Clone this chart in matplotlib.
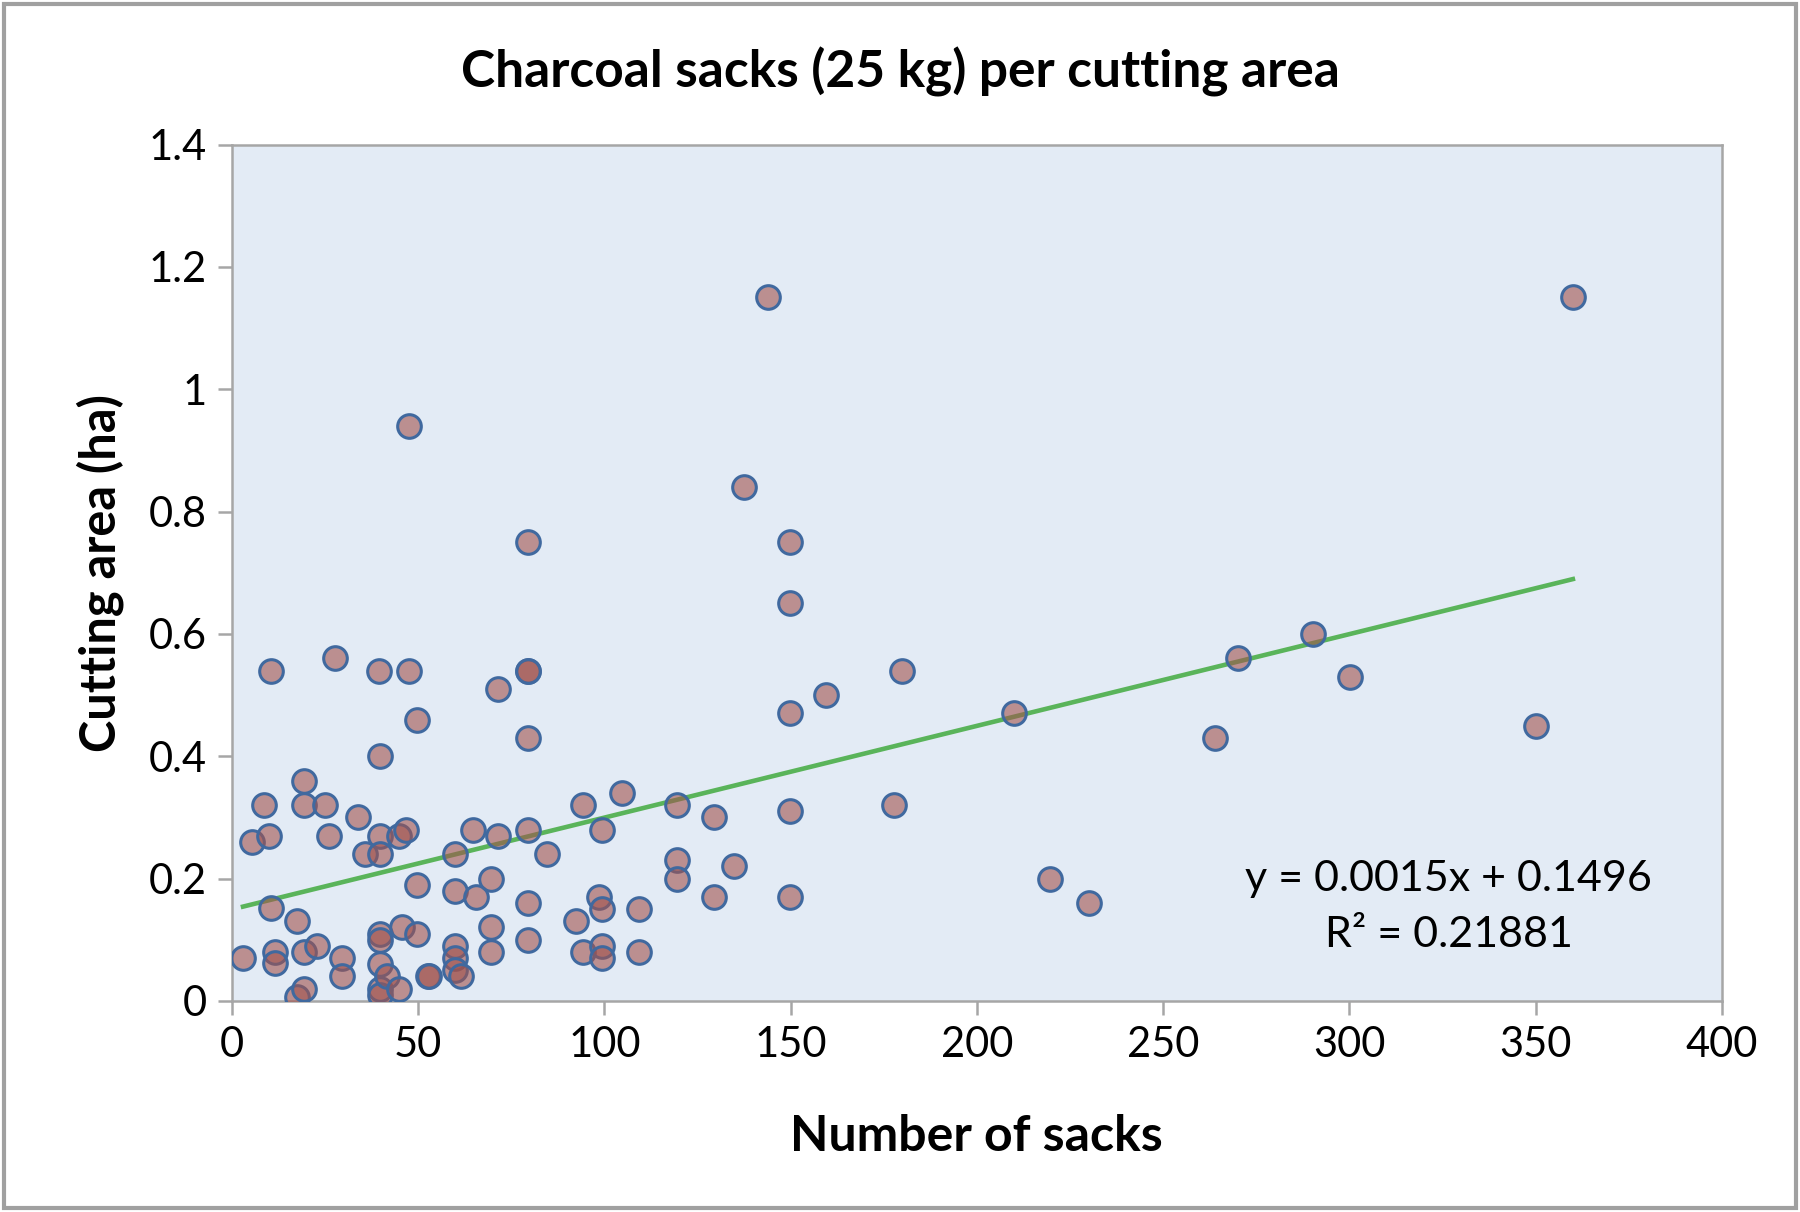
import matplotlib
matplotlib.use("Agg")
import matplotlib.pyplot as plt
from matplotlib.patches import Rectangle
import numpy as np

plt.rcParams['font.family'] = ['Lato', 'DejaVu Sans']

sacks = [3, 5.5, 8.6, 10, 10.5, 10.5, 11.7, 11.7, 17.6, 17.6,
         19.4, 19.4, 19.4, 19.4, 22.8, 25, 26, 27.7, 29.6, 29.6,
         34, 35.7, 39.4, 39.8, 39.8, 39.8, 39.8, 39.8, 39.8, 39.8,
         39.8, 41.6, 45, 45.6, 45, 46.8, 47.5, 47.5, 49.6, 49.6,
         49.6, 52.7, 53, 59.8, 59.8, 59.8, 59.8, 59.8, 61.6, 64.7,
         65.6, 69.6, 69.6, 69.6, 71.5, 71.5, 79.5, 79.5, 79.5, 79.5,
         79.5, 79.5, 79.5, 84.7, 92.4, 94.3, 94.3, 99.5, 98.6, 99.5,
         99.5, 99.5, 104.8, 109.4, 109.4, 119.6, 119.6, 119.6, 129.4, 129.4,
         134.7, 137.4, 144, 149.8, 149.8, 149.8, 149.8, 149.8, 159.6, 177.8,
         180, 209.9, 219.7, 230.2, 264, 270, 290.3, 300.2, 350, 360]
area = [0.07, 0.26, 0.32, 0.27, 0.54, 0.152, 0.08, 0.062, 0.13, 0.006,
        0.36, 0.32, 0.08, 0.02, 0.09, 0.32, 0.27, 0.56, 0.07, 0.04,
        0.30, 0.24, 0.54, 0.40, 0.27, 0.24, 0.11, 0.10, 0.06, 0.02,
        0.01, 0.04, 0.27, 0.12, 0.02, 0.28, 0.94, 0.54, 0.46, 0.19,
        0.11, 0.04, 0.04, 0.24, 0.18, 0.09, 0.07, 0.05, 0.04, 0.28,
        0.17, 0.20, 0.12, 0.08, 0.51, 0.27, 0.75, 0.54, 0.54, 0.43,
        0.28, 0.16, 0.10, 0.24, 0.13, 0.32, 0.08, 0.28, 0.17, 0.15,
        0.09, 0.07, 0.34, 0.15, 0.08, 0.32, 0.23, 0.20, 0.30, 0.17,
        0.22, 0.84, 1.15, 0.75, 0.65, 0.47, 0.31, 0.17, 0.50, 0.32,
        0.54, 0.47, 0.20, 0.16, 0.43, 0.56, 0.60, 0.53, 0.45, 1.15]

slope = 0.0015
intercept = 0.1496
r2 = 0.21881

x_ticks = [0, 50, 100, 150, 200, 250, 300, 350, 400]
y_ticks = [0, 0.2, 0.4, 0.6, 0.8, 1.0, 1.2, 1.4]
y_tick_labels = ['0', '0.2', '0.4', '0.6', '0.8', '1', '1.2', '1.4']

fig = plt.figure(figsize=(18, 12.12), dpi=100)
ax = fig.add_axes([0.1288, 0.1742, 0.8278, 0.7065])
ax.set_facecolor('#e3ebf5')

ax.scatter(sacks, area, s=17**2, facecolor=(0.63, 0.32, 0.30, 0.6),
           edgecolor='#40699f', linewidth=2.2, zorder=3)

xs = np.array([min(sacks), max(sacks)])
ax.plot(xs, slope * xs + intercept, color='#5ab45a', linewidth=3.3, zorder=2)

ax.set_xlim(0, 400)
ax.set_ylim(0, 1.4)
ax.set_xticks(x_ticks)
ax.set_xticklabels([str(t) for t in x_ticks])
ax.set_yticks(y_ticks)
ax.set_yticklabels(y_tick_labels)

for s in ax.spines.values():
    s.set_color('#a6a6a6')
    s.set_linewidth(1.8)
ax.tick_params(axis='both', colors='#a6a6a6', length=10, width=1.8,
               labelsize=30, labelcolor='black', direction='out')
ax.tick_params(axis='x', pad=8)
ax.tick_params(axis='y', pad=8)

ax.set_xlabel('Number of sacks', fontsize=36, fontweight='bold', labelpad=36)
ax.set_ylabel('Cutting area (ha)', fontsize=35, fontweight='bold', labelpad=18)
fig.suptitle('Charcoal sacks (25 kg) per cutting area', fontsize=37,
             fontweight='bold', x=0.5, y=0.941, va='center')

ax.text(326.7, 0.199, f'y = {slope}x + {intercept}', fontsize=31,
        ha='center', va='center', zorder=4)
ax.text(326.7, 0.107, f'R² = {r2}', fontsize=31, ha='center', va='center', zorder=4)

fig.patches.append(Rectangle((0.002, 0.003), 0.996, 0.994, transform=fig.transFigure,
                             fill=False, edgecolor='#a0a0a0', linewidth=3))

fig.savefig('out.png', dpi=100)
